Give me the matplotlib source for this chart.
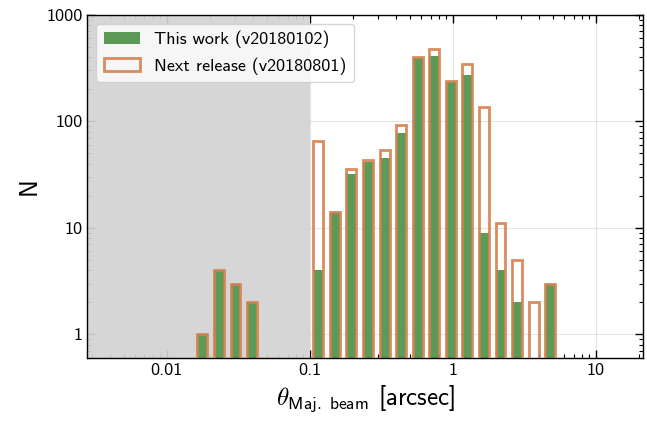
import matplotlib
matplotlib.use("Agg")
import matplotlib.pyplot as plt
from matplotlib.ticker import FuncFormatter, LogLocator
import numpy as np

# bin edges of the log-spaced histogram (arcsec)
bin_edges = [0.01547, 0.02019, 0.02636, 0.03441, 0.04493, 0.05866, 0.07659,
             0.1, 0.1306, 0.1704, 0.2225, 0.2905, 0.3793, 0.4952, 0.6465,
             0.8441, 1.102, 1.439, 1.878, 2.452, 3.202, 4.180, 5.458]

# counts per bin
counts_this = [1, 4, 3, 2, 0, 0, 0,
               4, 14, 32, 41, 45, 77, 390, 406, 231, 273, 9, 4, 2, 0, 3]
counts_next = [1, 4, 3, 2, 0, 0, 0,
               65, 14, 36, 43, 54, 92, 400, 480, 240, 345, 135, 11, 5, 2, 3]

label_this = "This work (v20180102)"
label_next = "Next release (v20180801)"
resolved_limit = 0.1

GREEN = "#5c9a58"
ORANGE = "#d4804f"

plt.rcParams.update({
    "font.family": "cmss10",
    "mathtext.fontset": "cm",
    "axes.unicode_minus": False,
    "axes.formatter.use_mathtext": True,
})

fig = plt.figure(figsize=(6.47, 4.22), dpi=100)
ax = fig.add_axes([0.135, 0.1517, 0.8593, 0.8135])

ax.set_xscale("log")
ax.set_yscale("log")

centers = bin_edges[:-1]
ax.hist(centers, bins=bin_edges, weights=counts_this, rwidth=0.6,
        color=GREEN, edgecolor="none", label=label_this, zorder=2)
ax.hist(centers, bins=bin_edges, weights=counts_next, rwidth=0.6,
        fill=False, edgecolor=ORANGE, linewidth=2.0, alpha=0.9,
        label=label_next, zorder=3)

# shaded region below the resolution limit, drawn over the grid
ax.axvspan(1e-4, resolved_limit, color="#d3d3d3", alpha=0.92, zorder=0.6, lw=0)

ax.set_xlim(0.00279, 21.5)
ax.set_ylim(0.6, 1000)

ax.grid(True, which="major", color="gray", alpha=0.2, linewidth=0.8, zorder=0.5)
ax.set_axisbelow(True)

fmt = FuncFormatter(lambda v, p: "%g" % v)
ax.xaxis.set_major_formatter(fmt)
ax.yaxis.set_major_formatter(fmt)
ax.xaxis.set_minor_formatter(FuncFormatter(lambda v, p: ""))
ax.yaxis.set_minor_formatter(FuncFormatter(lambda v, p: ""))
ax.xaxis.set_minor_locator(LogLocator(base=10, subs=np.arange(2, 10), numticks=20))
ax.yaxis.set_minor_locator(LogLocator(base=10, subs=np.arange(2, 10), numticks=20))

ax.tick_params(which="both", direction="in", top=True, right=True, labelsize=13)
ax.tick_params(which="major", length=6, width=1)
ax.tick_params(which="minor", length=3, width=0.8)
for s in ax.spines.values():
    s.set_linewidth(1)

ax.set_xlabel(r"$\theta_{\mathsf{Maj.\ beam}}$ [arcsec]", fontsize=18)
ax.set_ylabel("N", fontsize=18)

ax.legend(loc="upper left", fontsize=13, framealpha=0.8)

fig.savefig("out.png", dpi=100)
